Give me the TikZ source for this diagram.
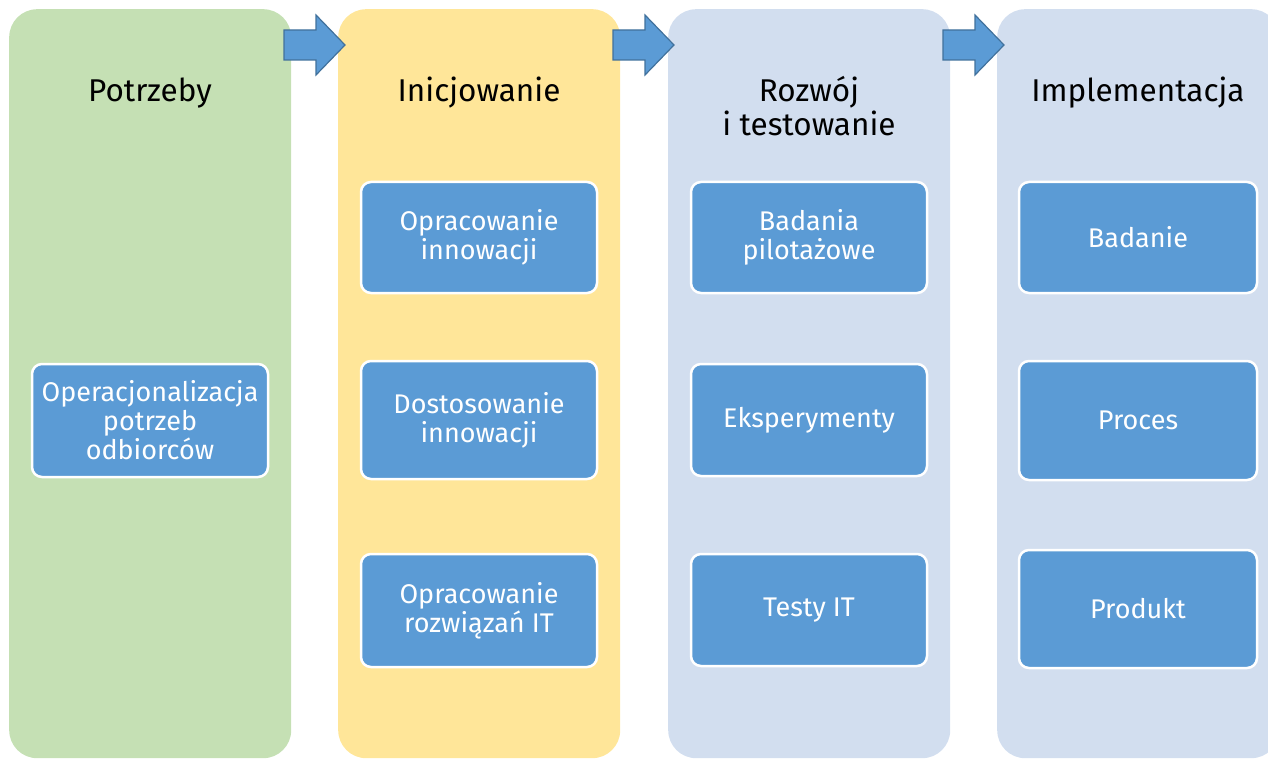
\documentclass[tikz,border=0pt]{standalone}
\usepackage{fontspec}
\setmainfont{Fira Sans}
\definecolor{cgreen}{HTML}{C5E0B4}
\definecolor{cyellow}{HTML}{FFE699}
\definecolor{cblue}{HTML}{D2DEEF}
\definecolor{boxblue}{HTML}{5B9BD5}
\definecolor{arrowline}{HTML}{41719C}
\tikzset{
  colbox/.style={rounded corners=28pt, minimum width=282pt, minimum height=749pt, inner sep=0pt, draw=none},
  stepbox/.style={rounded corners=10pt, fill=boxblue, draw=white, line width=2.5pt, text=white, align=center, inner sep=0pt,
    font=\fontsize{27}{29}\selectfont},
  title/.style={anchor=base, align=center, font=\fontsize{31.5}{34}\selectfont, text=black},
  blockarrow/.style={fill=boxblue, draw=arrowline, line width=1.2pt, line join=miter}
}
\begin{document}
\begin{tikzpicture}[x=1pt,y=-1pt]
\useasboundingbox (0,0) rectangle (1268,759);
\clip (0,0) rectangle (1268,759);
% columns
\node[colbox, fill=cgreen, anchor=north west] (c1) at (9,9) {};
\node[colbox, fill=cyellow, anchor=north west] (c2) at (338,9) {};
\node[colbox, fill=cblue, anchor=north west] (c3) at (668,9) {};
\node[colbox, fill=cblue, anchor=north west] (c4) at (997,9) {};
% titles
\node[title] (t1) at (150,102) {Potrzeby};
\node[title] (t2) at (479,102) {Inicjowanie};
\node[title] (t3) at (809,136) {Rozwój\\i testowanie};
\node[title] (t4) at (1138,102) {Implementacja};
% block arrows
\draw[blockarrow] (284,30) -- (316,30) -- (316,15) -- (345,45) -- (316,75) -- (316,60) -- (284,60) -- cycle;
\draw[blockarrow] (613,30) -- (645,30) -- (645,15) -- (674,45) -- (645,75) -- (645,60) -- (613,60) -- cycle;
\draw[blockarrow] (943,30) -- (975,30) -- (975,15) -- (1004,45) -- (975,75) -- (975,60) -- (943,60) -- cycle;
% boxes column 1
\node[stepbox, minimum width=236pt, minimum height=113pt] (b11) at (150,420.5) {Operacjonalizacja\\potrzeb\\odbiorców};
% column 2
\node[stepbox, minimum width=236pt, minimum height=111pt] (b21) at (479,237.5) {Opracowanie\\innowacji};
\node[stepbox, minimum width=236pt, minimum height=118pt] (b22) at (479,420) {Dostosowanie\\innowacji};
\node[stepbox, minimum width=236pt, minimum height=113pt] (b23) at (479,610.5) {Opracowanie\\rozwiązań IT};
% column 3
\node[stepbox, minimum width=236pt, minimum height=111pt] (b31) at (809,237.5) {Badania\\pilotażowe};
\node[stepbox, minimum width=236pt, minimum height=112pt] (b32) at (809,420) {Eksperymenty};
\node[stepbox, minimum width=236pt, minimum height=112pt] (b33) at (809,610) {Testy IT};
% column 4
\node[stepbox, minimum width=238pt, minimum height=111pt] (b41) at (1138,237.5) {Badanie};
\node[stepbox, minimum width=238pt, minimum height=119pt] (b42) at (1138,420.5) {Proces};
\node[stepbox, minimum width=238pt, minimum height=118pt] (b43) at (1138,609) {Produkt};
\end{tikzpicture}
\end{document}
